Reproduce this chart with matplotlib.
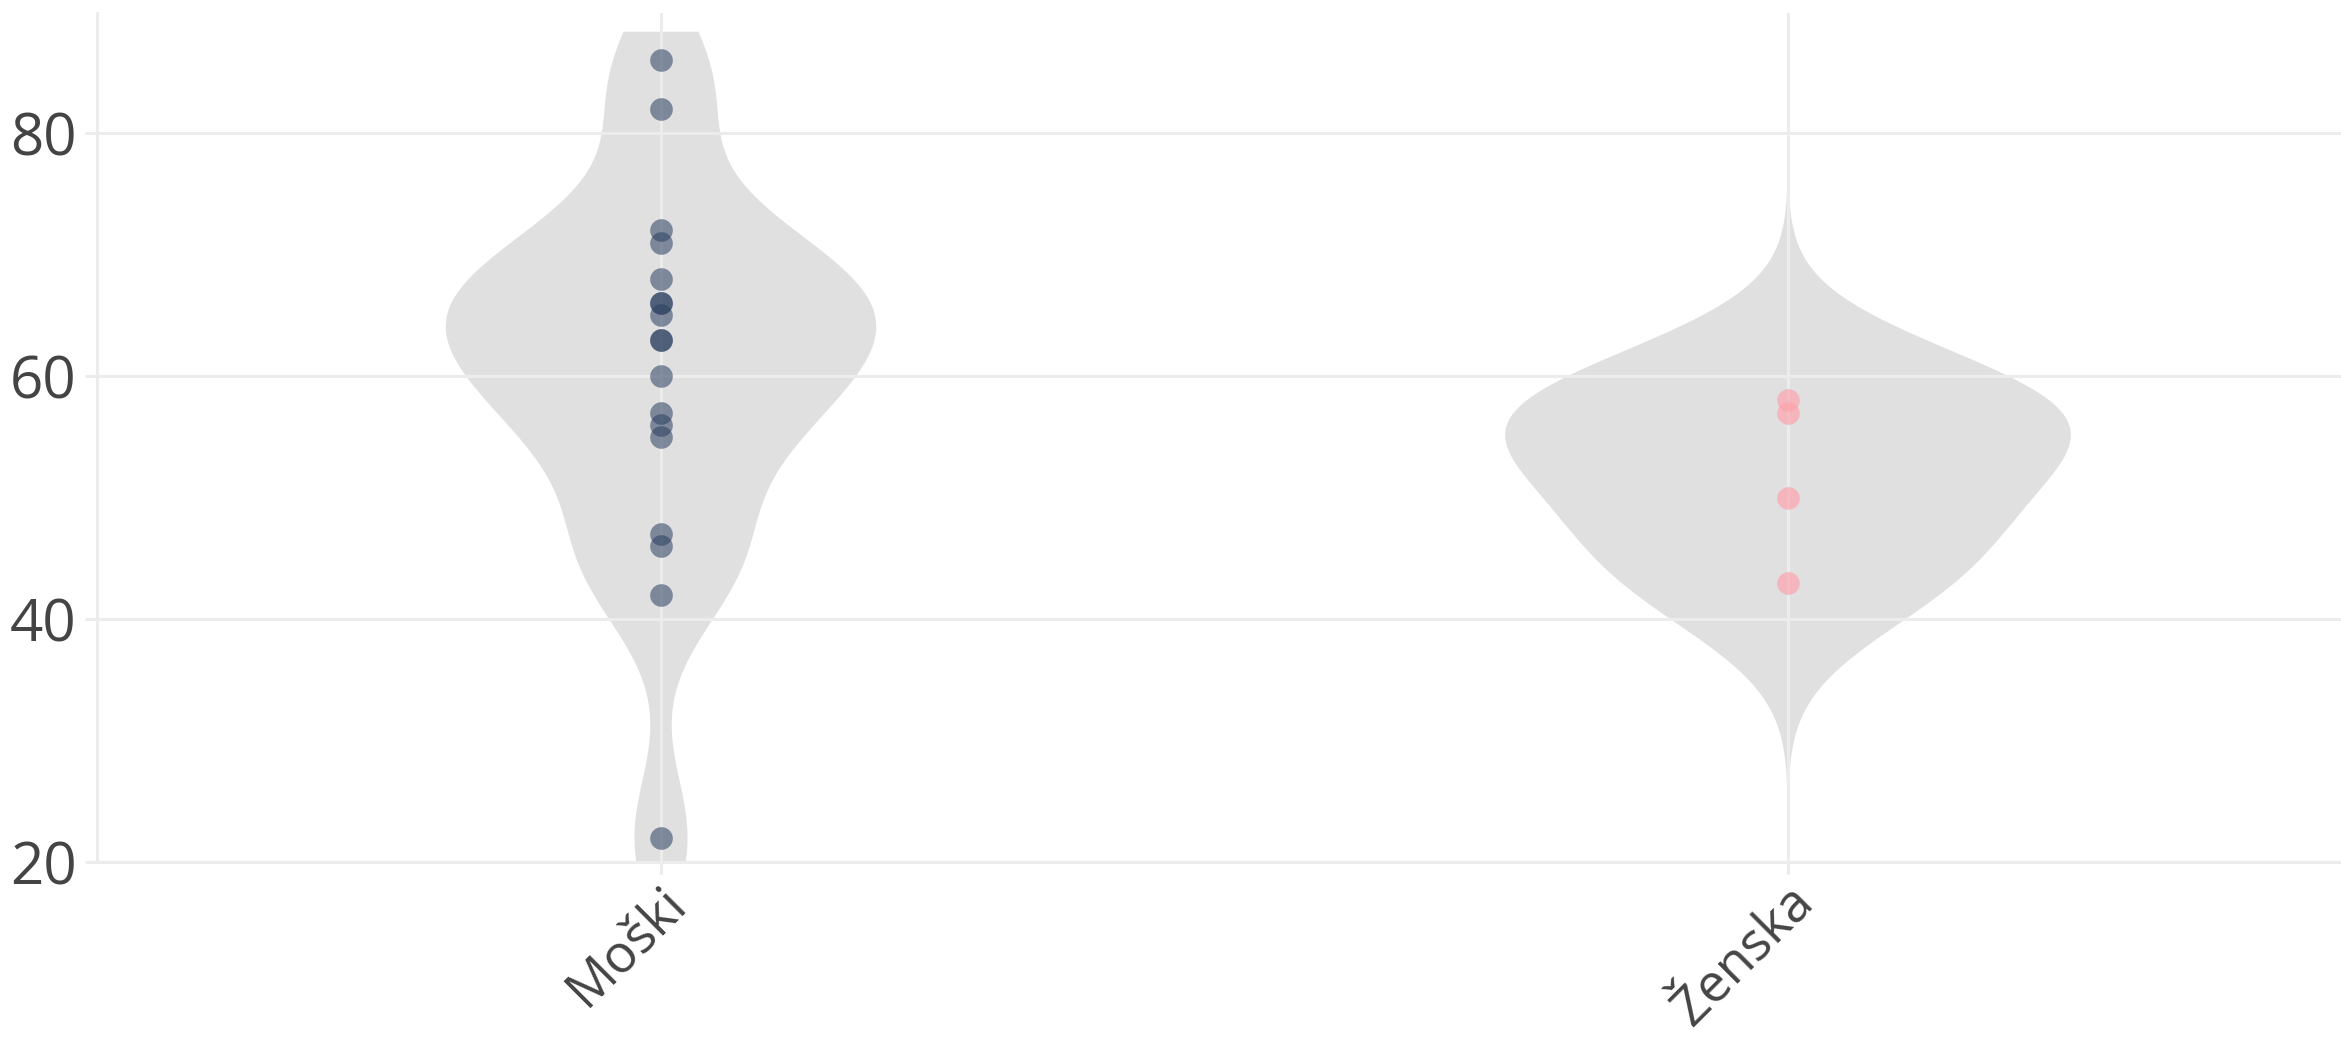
import numpy as np
import matplotlib
matplotlib.use('Agg')
import matplotlib.pyplot as plt
from matplotlib.transforms import ScaledTranslation

# ---- data ----
categories = ['Moški', 'Ženska']
male_values = [86, 82, 72, 71, 68, 66, 66, 65, 63, 63, 60, 57, 56, 55, 47, 46, 42, 22]
female_values = [58, 57, 50, 43]
y_ticks = [20, 40, 60, 80]

# ---- style ----
W, H = 2341, 1042
GRID = '#ececec'
TEXT = '#444444'
VIOLIN = '#e0e0e0'
plt.rcParams['font.family'] = ['Open Sans', 'DejaVu Sans']

def silverman_bw(v):
    v = np.asarray(v, float)
    sd = v.std(ddof=1)
    q1, q3 = np.percentile(v, [25, 75])
    return 1.059 * min(sd, (q3 - q1) / 1.349) * len(v) ** -0.2

def kde(v, grid, bw):
    v = np.asarray(v, float)
    return np.exp(-0.5 * ((grid[:, None] - v[None, :]) / bw) ** 2).sum(1)

fig = plt.figure(figsize=(W / 100, H / 100), dpi=100)
ax = fig.add_axes([97 / W, 180 / H, 2254 / W, (862 - 13) / H])

series = [
    dict(values=male_values, span=(20, 88.4), half=0.191, color='#2a3f5f', alpha=0.55),
    dict(values=female_values, span=(25.9, 76.4), half=0.251, color='#ffa0aa', alpha=0.65),
]

for i, s in enumerate(series):
    bw = silverman_bw(s['values'])
    grid = np.linspace(s['span'][0], s['span'][1], 600)
    d = kde(s['values'], grid, bw)
    d = d / d.max() * s['half']
    ax.fill_betweenx(grid, i - d, i + d, color=VIOLIN, lw=0, zorder=1)
    ax.scatter(np.full(len(s['values']), i), s['values'], s=266,
               color=s['color'], alpha=s['alpha'], lw=0, zorder=3)

ax.set_xlim(-0.5, 1.5)
ax.set_ylim(20, 89.9)
ax.set_yticks(y_ticks)
ax.set_xticks(range(len(categories)))
ax.set_xticklabels(categories, rotation=45, ha='right', va='center',
                   rotation_mode='anchor', fontsize=38)
ax.set_axisbelow(False)
ax.grid(True, color=GRID, lw=2.2, zorder=2)
for sp in ['top', 'right']:
    ax.spines[sp].set_visible(False)
for sp in ['left', 'bottom']:
    ax.spines[sp].set_color(GRID)
    ax.spines[sp].set_linewidth(2.2)
ax.tick_params(axis='both', length=8.6, width=2.2, color=GRID,
               labelcolor=TEXT, labelsize=42, pad=6)
ax.tick_params(axis='x', pad=14, labelsize=38)
off = ScaledTranslation(0.18, -0.02, fig.dpi_scale_trans)
for lab in ax.get_xticklabels():
    lab.set_transform(lab.get_transform() + off)

fig.savefig('out.png', dpi=100, facecolor='white')
